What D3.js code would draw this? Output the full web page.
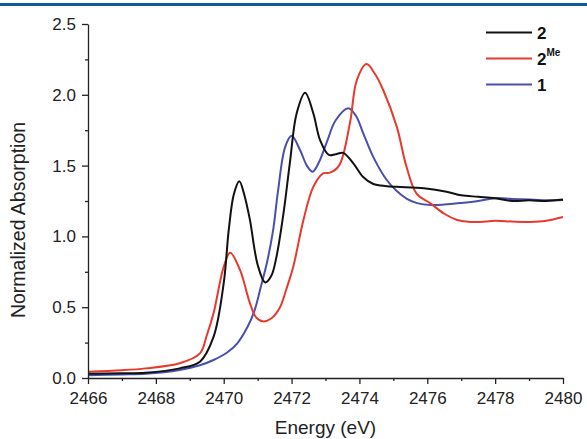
<!DOCTYPE html>
<html>
<head>
<meta charset="utf-8">
<script src="https://cdn.jsdelivr.net/npm/d3@7"></script>
<style>
  body { margin: 0; background: #fff; }
  svg { display: block; font-family: "Liberation Sans", Arial, sans-serif; }
</style>
</head>
<body>
<svg id="chart" width="587" height="439"></svg>
<script>
// series (energy in eV, normalized absorption)
const energy2 = [2466, 2467, 2467.7, 2468.7, 2469.3, 2469.7, 2470.0, 2470.15, 2470.3, 2470.46, 2470.6, 2470.77, 2471.0, 2471.22, 2471.4, 2471.55, 2471.76, 2471.95, 2472.15, 2472.4, 2472.64, 2472.84, 2473.1, 2473.3, 2473.52, 2473.82, 2474.11, 2474.41, 2474.8, 2475.1, 2475.9, 2476.57, 2477, 2477.5, 2478, 2478.5, 2479, 2479.5, 2480];
const abs2 = [0.03, 0.033, 0.037, 0.068, 0.115, 0.29, 0.67, 1.05, 1.3, 1.39, 1.3, 1.12, 0.8, 0.675, 0.72, 0.85, 1.16, 1.52, 1.87, 2.015, 1.87, 1.68, 1.575, 1.58, 1.59, 1.516, 1.42, 1.37, 1.355, 1.35, 1.34, 1.316, 1.29, 1.28, 1.27, 1.25, 1.255, 1.25, 1.26];

const energy2Me = [2466, 2467, 2467.7, 2468.7, 2469.3, 2469.5, 2469.7, 2470.0, 2470.19, 2470.48, 2470.77, 2470.95, 2471.15, 2471.4, 2471.66, 2471.85, 2472.05, 2472.35, 2472.64, 2472.93, 2473.13, 2473.4, 2473.72, 2473.92, 2474.21, 2474.45, 2474.7, 2475.1, 2475.39, 2475.69, 2476.08, 2476.5, 2476.88, 2477.2, 2477.55, 2478, 2478.5, 2479.03, 2479.5, 2480];
const abs2Me = [0.045, 0.055, 0.068, 0.104, 0.174, 0.3, 0.457, 0.786, 0.885, 0.763, 0.53, 0.43, 0.4, 0.42, 0.5, 0.63, 0.786, 1.116, 1.35, 1.445, 1.45, 1.5, 1.8, 2.1, 2.217, 2.15, 2.034, 1.775, 1.49, 1.3, 1.236, 1.16, 1.116, 1.103, 1.102, 1.11, 1.105, 1.102, 1.11, 1.137];

const energy1 = [2466, 2467, 2467.7, 2468.7, 2469.3, 2469.7, 2470.1, 2470.4, 2470.7, 2470.9, 2471.1, 2471.27, 2471.46, 2471.6, 2471.81, 2472.0, 2472.25, 2472.45, 2472.62, 2472.8, 2473.03, 2473.3, 2473.67, 2473.9, 2474.11, 2474.41, 2474.8, 2475.1, 2475.4, 2475.7, 2476.1, 2476.5, 2477, 2477.5, 2478, 2478.5, 2479, 2479.5, 2480];
const abs1 = [0.02, 0.025, 0.03, 0.057, 0.09, 0.127, 0.18, 0.245, 0.36, 0.47, 0.65, 0.81, 1.05, 1.32, 1.63, 1.71, 1.61, 1.5, 1.457, 1.52, 1.66, 1.82, 1.905, 1.85, 1.73, 1.56, 1.4, 1.32, 1.265, 1.235, 1.222, 1.225, 1.236, 1.25, 1.27, 1.265, 1.26, 1.255, 1.257];

const xTicks = [2466, 2468, 2470, 2472, 2474, 2476, 2478, 2480];
const xMinorTicks = [2467, 2469, 2471, 2473, 2475, 2477, 2479];
const yTicks = [0.0, 0.5, 1.0, 1.5, 2.0, 2.5];
const yMinorTicks = [0.25, 0.75, 1.25, 1.75, 2.25];

const series = [
  { label: "2", sup: "", color: "#111111", e: energy2, v: abs2 },
  { label: "2", sup: "Me", color: "#e8392e", e: energy2Me, v: abs2Me },
  { label: "1", sup: "", color: "#4a4fae", e: energy1, v: abs1 },
];

const svg = d3.select("#chart");
const margin = { left: 88, right: 24, top: 24, bottom: 61 };
const width = 587;
const height = 439;

// blue header rule
svg.append("rect")
  .attr("x", 0).attr("y", 3)
  .attr("width", width).attr("height", 3)
  .attr("fill", "#0b5c98");

const x = d3.scaleLinear()
  .domain([2466, 2480])
  .range([margin.left, width - margin.right]);

const y = d3.scaleLinear()
  .domain([0, 2.5])
  .range([height - margin.bottom, margin.top]);

const line = d3.line()
  .x((d) => x(d[0]))
  .y((d) => y(d[1]))
  .curve(d3.curveCatmullRom.alpha(0.5));

// curves (blue drawn first, black on top)
[series[2], series[1], series[0]].forEach((s) => {
  svg.append("path")
    .datum(s.e.map((e, i) => [e, s.v[i]]))
    .attr("fill", "none")
    .attr("stroke", s.color)
    .attr("stroke-width", 2)
    .attr("d", line);
});

// axes
const xAxis = svg.append("g")
  .attr("transform", `translate(0, ${y(0)})`)
  .call(d3.axisBottom(x).tickValues(xTicks).tickFormat(d3.format("d"))
    .tickSize(6).tickSizeOuter(0).tickPadding(8));

svg.append("g")
  .attr("transform", `translate(0, ${y(0)})`)
  .call(d3.axisBottom(x).tickValues(xMinorTicks).tickFormat("").tickSize(3))
  .select(".domain").remove();

const yAxis = svg.append("g")
  .attr("transform", `translate(${x(2466)}, 0)`)
  .call(d3.axisLeft(y).tickValues(yTicks).tickFormat(d3.format(".1f"))
    .tickSize(6).tickSizeOuter(0).tickPadding(6));

svg.append("g")
  .attr("transform", `translate(${x(2466)}, 0)`)
  .call(d3.axisLeft(y).tickValues(yMinorTicks).tickFormat("").tickSize(3))
  .select(".domain").remove();

svg.selectAll(".domain").attr("stroke", "#222").attr("stroke-width", 1.3);
svg.selectAll(".tick line").attr("stroke", "#222").attr("stroke-width", 1.3);

xAxis.selectAll("text").attr("font-size", 17).attr("fill", "#222")
  .attr("font-family", "Liberation Sans, Arial, sans-serif");
yAxis.selectAll("text").attr("font-size", 17).attr("fill", "#222")
  .attr("font-family", "Liberation Sans, Arial, sans-serif");

// axis titles
svg.append("text")
  .attr("x", (x(2466) + x(2480)) / 2)
  .attr("y", 434)
  .attr("text-anchor", "middle")
  .attr("font-size", 19)
  .attr("fill", "#222")
  .text("Energy (eV)");

svg.append("text")
  .attr("transform", "translate(25, 220) rotate(-90)")
  .attr("text-anchor", "middle")
  .attr("font-size", 19.5)
  .attr("fill", "#222")
  .text("Normalized Absorption");

// legend
const legend = svg.selectAll(".legend")
  .data(series)
  .enter()
  .append("g")
  .attr("class", "legend")
  .attr("transform", (d, i) => `translate(486, ${32.5 + i * 26})`);

legend.append("line")
  .attr("x1", 0).attr("x2", 46)
  .attr("stroke", (d) => d.color)
  .attr("stroke-width", 2);

const lt = legend.append("text")
  .attr("x", 51)
  .attr("y", 6)
  .attr("font-size", 17)
  .attr("font-weight", "bold")
  .attr("fill", "#111");

lt.append("tspan").text((d) => d.label);
lt.filter((d) => d.sup)
  .append("tspan")
  .attr("dy", -9)
  .attr("font-size", 10)
  .text((d) => d.sup);
</script>
</body>
</html>
